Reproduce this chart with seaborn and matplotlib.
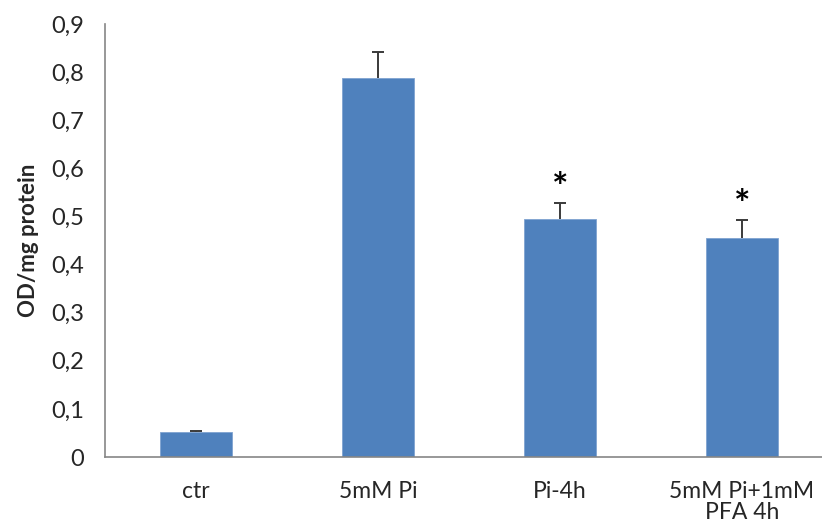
import matplotlib
matplotlib.use("Agg")
import matplotlib.pyplot as plt
import seaborn as sns
import pandas as pd
import numpy as np

categories = ["ctr", "5mM Pi", "Pi-4h", "5mM Pi+1mM\nPFA 4h"]
values = [0.052, 0.788, 0.495, 0.455]
errors = [0.002, 0.054, 0.033, 0.038]
significant = [False, False, True, True]
yticks = [0, 0.1, 0.2, 0.3, 0.4, 0.5, 0.6, 0.7, 0.8, 0.9]
ytick_labels = ["0", "0,1", "0,2", "0,3", "0,4", "0,5", "0,6", "0,7", "0,8", "0,9"]

sns.set_style("white")
plt.rcParams['font.family'] = ['Lato', 'DejaVu Sans']

df = pd.DataFrame({"cat": categories, "val": values})

fig = plt.figure(figsize=(8.22, 5.32), dpi=100)
ax = fig.add_axes([105/822, 75/532, 728/822, 433/532])

sns.barplot(data=df, x="cat", y="val", color="#4F81BD", saturation=1, width=0.4,
            ax=ax, errorbar=None, edgecolor="#7FA3D0", linewidth=0.6)

xs = np.arange(len(categories))
tops = np.array(values) + np.array(errors)
ax.vlines(xs, values, tops, colors="#3A3A3A", linewidth=1.4, zorder=5)
ax.hlines(tops, xs - 0.035, xs + 0.035, colors="#3A3A3A", linewidth=1.4, zorder=5)

for x, t, s in zip(xs, tops, significant):
    if s:
        ax.text(x, t + 0.03, "*", ha="center", va="center", fontsize=28,
                fontweight="bold", color="black")

ax.set_xlim(-0.5, 3.5)
ax.set_ylim(0, 0.9)
ax.set_yticks(yticks)
ax.set_yticklabels(ytick_labels, fontsize=17, color="#262626")
ax.set_xticks(np.arange(-0.5, 3.0, 1.0), minor=True)
ax.set_xticks(xs)
ax.set_xticklabels(categories, fontsize=16.5, color="#262626", linespacing=1.05)
ax.tick_params(axis="x", which="major", length=0, pad=17)
ax.tick_params(axis="x", which="minor", length=7, color="#868686", width=1.2, direction="out")
ax.tick_params(axis="y", which="major", length=7, color="#868686", width=1.2, direction="out", pad=8)
for sp in ["top", "right"]:
    ax.spines[sp].set_visible(False)
for sp in ["left", "bottom"]:
    ax.spines[sp].set_color("#868686")
    ax.spines[sp].set_linewidth(1.2)
ax.set_xlabel("")
ax.set_ylabel("OD/mg protein", fontsize=16, fontweight="bold", labelpad=9)
ax.spines["bottom"].set_clip_on(False)

fig.savefig("out.png", dpi=100)
